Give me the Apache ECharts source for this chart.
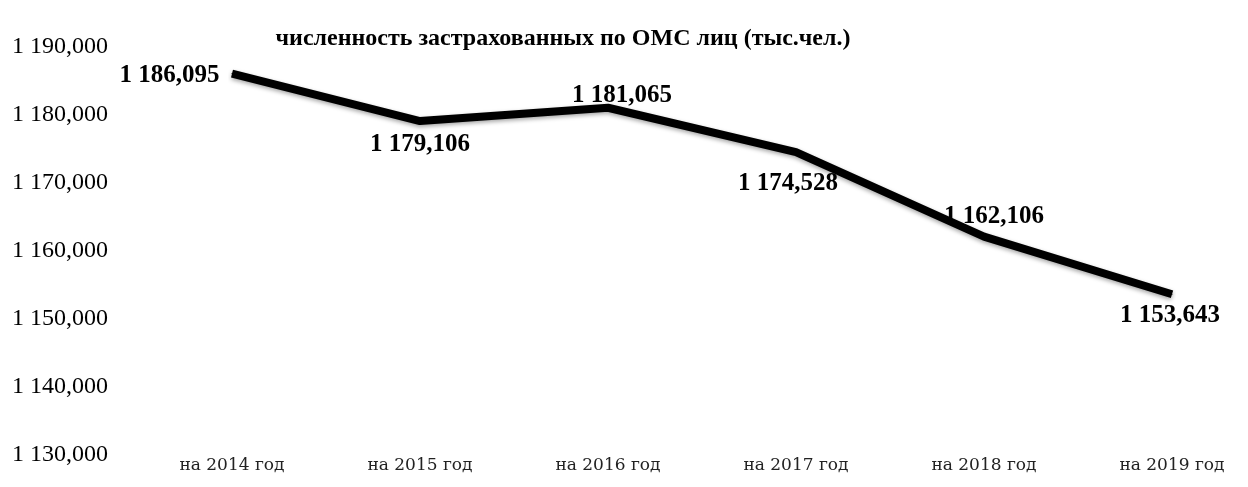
<!DOCTYPE html>
<html>
<head>
<meta charset="utf-8">
<script src="https://cdn.jsdelivr.net/npm/echarts@6/dist/echarts.min.js"></script>
<style>
html,body{margin:0;padding:0;background:#fff;}
#chart{width:1248px;height:487px;}
</style>
</head>
<body>
<div id="chart"></div>
<script>
const titleText = 'численность застрахованных по ОМС лиц (тыс.чел.)';
const categories = ['на 2014 год', 'на 2015 год', 'на 2016 год', 'на 2017 год', 'на 2018 год', 'на 2019 год'];
const values = [1186.095, 1179.106, 1181.065, 1174.528, 1162.106, 1153.643];
const labelPositions = ['left', 'bottom', 'top', 'bottom', 'top', 'bottom'];
const labelOffsets = [[0, 2], [0, 0], [14, 3], [-8, 8], [10, -5], [-2, 0]];
const labelDistances = [12, 10, 2, 10, 2, 8];

function fmt(v) {
  const s = v.toFixed(3);
  const parts = s.split('.');
  const intPart = parts[0].replace(/\B(?=(\d{3})+(?!\d))/g, ' ');
  return intPart + ',' + parts[1];
}

const chart = echarts.init(document.getElementById('chart'), null, {renderer: 'canvas'});
chart.setOption({
  backgroundColor: '#ffffff',
  animation: false,
  title: {
    text: titleText,
    left: 558,
    textAlign: 'center',
    top: 22,
    textStyle: {fontFamily: 'Liberation Serif', fontSize: 24, fontWeight: 'bold', color: '#000'}
  },
  grid: {left: 232, right: 76, top: 47, bottom: 32},
  xAxis: {
    type: 'category',
    data: categories,
    boundaryGap: false,
    axisLine: {show: false},
    axisTick: {show: false},
    axisLabel: {fontFamily: 'DejaVu Serif', fontSize: 17, color: '#222', margin: 2}
  },
  yAxis: {
    type: 'value',
    min: 1130,
    max: 1190,
    interval: 10,
    axisLine: {show: false},
    axisTick: {show: false},
    splitLine: {show: false},
    axisLabel: {
      fontFamily: 'Liberation Serif', fontSize: 24, color: '#000',
      align: 'left', margin: 220,
      formatter: v => fmt(v)
    }
  },
  series: [{
    type: 'line',
    data: values.map((v, i) => ({
      value: v,
      label: {position: labelPositions[i], offset: labelOffsets[i], distance: labelDistances[i]}
    })),
    symbol: 'circle',
    symbolSize: 1,
    showSymbol: true,
    itemStyle: {color: '#000'},
    lineStyle: {color: '#000', width: 8, shadowColor: 'rgba(0,0,0,0.35)', shadowBlur: 4, shadowOffsetY: 2},
    label: {
      show: true,
      fontFamily: 'Liberation Serif', fontSize: 25, fontWeight: 'bold', color: '#000',
      formatter: p => fmt(p.value)
    }
  }]
});
</script>
</body>
</html>
